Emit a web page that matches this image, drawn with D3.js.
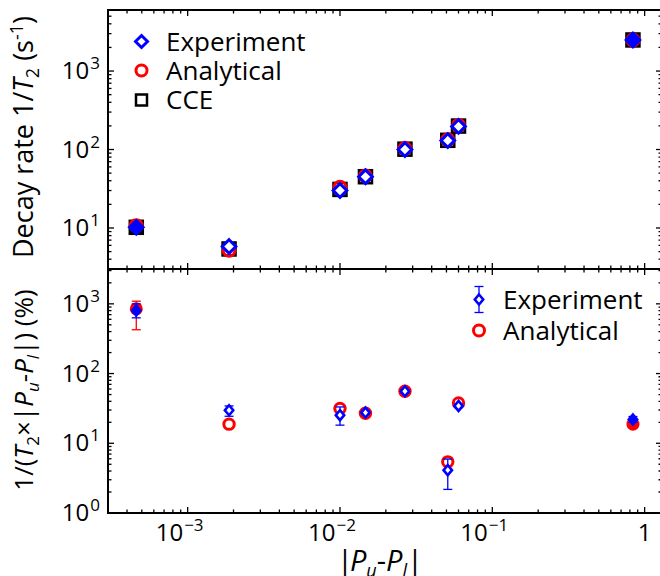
<!DOCTYPE html>
<html>
<head>
<meta charset="utf-8">
<script src="https://cdn.jsdelivr.net/npm/d3@7"></script>
<style>
	body { margin: 0; background: #fff; }
	svg { display: block; font-family: "Open Sans", sans-serif; }
</style>
</head>
<body>
<div id="graphic"></div>
<script>
// |Pu - Pl| for each measured transition
const pDiff = [4.6e-4, 1.87e-3, 0.0100, 0.0147, 0.0267, 0.051, 0.060, 0.838];

// top panel: decay rate 1/T2 (s^-1)
const rateExp = [10.2, 5.8, 30, 45, 100, 130, 197, 2490];
const rateAna = [10.7, 5.2, 33, 46, 103, 133, 203, 2490];
const rateCce = [10.2, 5.4, 31, 45, 101, 131, 199, 2490];

// bottom panel: 1/(T2 x |Pu-Pl|) (%)
const pctExp = [803, 29.8, 25.3, 27.6, 55.7, 4.12, 34.3, 21.9];
const pctExpLo = [630, 24.4, 18.2, 25.8, 52.5, 2.18, 32.6, 20.0];
const pctExpHi = [1000, 34.3, 33.2, 29.6, 59.0, 5.93, 36.2, 24.2];
const pctAna = [849, 18.8, 31.5, 27.0, 55.7, 5.42, 37.9, 18.8];
const pctAnaLo = [425, null, null, null, null, null, null, null];
const pctAnaHi = [1091, null, null, null, null, null, null, null];

// tick labels: [base, exponent]
const xTicks = [1e-3, 1e-2, 1e-1, 1];
const xTickLabels = [["10", "-3"], ["10", "-2"], ["10", "-1"], ["1", ""]];
const yTopTicks = [10, 100, 1000];
const yTopLabels = [["10", "1"], ["10", "2"], ["10", "3"]];
const yBotTicks = [1, 10, 100, 1000];
const yBotLabels = [["10", "0"], ["10", "1"], ["10", "2"], ["10", "3"]];

const width = 660, height = 576;
const filledIdx = [0, 7]; // end points drawn with solid markers
const blue = "#0000ff", red = "#ff0000";

const svg = d3.select("#graphic").append("svg")
	.attr("width", width).attr("height", height);

const x = d3.scaleLog().domain([3e-4, 1.3]).range([108, 662]);
const yTop = d3.scaleLog().domain([3, 6000]).range([269, 10]);
const yBot = d3.scaleLog().domain([1, 3160]).range([513, 269]);

function drawFrame(y) {
	let g = svg.append("g");
	let [yb, yt] = y.range();
	let [xl, xr] = x.range();
	let isMajor = (v) => Math.abs(Math.log10(v) - Math.round(Math.log10(v))) < 1e-6;

	x.ticks().forEach(function (t) {
		let len = isMajor(t) ? 6 : 3.5;
		let px = x(t);
		g.append("line").attr("x1", px).attr("x2", px).attr("y1", yb).attr("y2", yb - len);
		g.append("line").attr("x1", px).attr("x2", px).attr("y1", yt).attr("y2", yt + len);
	});
	y.ticks().forEach(function (t) {
		let len = isMajor(t) ? 6 : 3.5;
		let py = y(t);
		g.append("line").attr("x1", xl).attr("x2", xl + len).attr("y1", py).attr("y2", py);
		g.append("line").attr("x1", xr).attr("x2", xr - len).attr("y1", py).attr("y2", py);
	});
	g.selectAll("line").attr("stroke", "#000").attr("stroke-width", 1.3);

	g.append("rect")
		.attr("x", xl).attr("y", yt)
		.attr("width", xr - xl).attr("height", yb - yt)
		.attr("fill", "none").attr("stroke", "#000").attr("stroke-width", 2);
	return g;
}

function powLabel(g, px, py, lab, anchor) {
	let t = g.append("text")
		.attr("x", px).attr("y", py)
		.attr("text-anchor", anchor)
		.attr("font-size", 24);
	t.append("tspan").text(lab[0]);
	if (lab[1] !== "") {
		t.append("tspan").attr("dx", 1).attr("dy", -10).attr("font-size", 17).text(lab[1].replace("-", "\u2212"));
	}
}

function diamondPath(w, h) {
	return "M0," + (-h) + "L" + w + ",0L0," + h + "L" + (-w) + ",0Z";
}

// ---------- top panel ----------
drawFrame(yTop);
yTopTicks.forEach((t, i) => powLabel(svg, 100, yTop(t) + 8, yTopLabels[i], "end"));

let topMarks = svg.append("g");
pDiff.forEach(function (p, i) {
	let solid = filledIdx.includes(i);
	topMarks.append("rect")
		.attr("x", x(p) - 6.5).attr("y", yTop(rateCce[i]) - 6.5)
		.attr("width", 13).attr("height", 13)
		.attr("fill", solid ? "#000" : "none")
		.attr("stroke", "#000").attr("stroke-width", 2.5);
});
pDiff.forEach(function (p, i) {
	let solid = filledIdx.includes(i);
	topMarks.append("circle")
		.attr("cx", x(p)).attr("cy", yTop(rateAna[i])).attr("r", 6)
		.attr("fill", solid ? red : "none")
		.attr("stroke", red).attr("stroke-width", 3);
});
pDiff.forEach(function (p, i) {
	let solid = filledIdx.includes(i);
	topMarks.append("path")
		.attr("transform", "translate(" + x(p) + "," + yTop(rateExp[i]) + ")")
		.attr("d", diamondPath(6.8, 6.8))
		.attr("fill", solid ? blue : "#fff")
		.attr("stroke", blue).attr("stroke-width", 3);
});

// top legend
let leg1 = svg.append("g").attr("font-size", 26);
leg1.append("path").attr("transform", "translate(141.5,41.5)")
	.attr("d", diamondPath(6, 6)).attr("fill", "none").attr("stroke", blue).attr("stroke-width", 3);
leg1.append("circle").attr("cx", 141.5).attr("cy", 70.5).attr("r", 5.5)
	.attr("fill", "none").attr("stroke", red).attr("stroke-width", 3);
leg1.append("rect").attr("x", 136).attr("y", 94.5).attr("width", 11).attr("height", 11)
	.attr("fill", "none").attr("stroke", "#000").attr("stroke-width", 2.5);
[["Experiment", 41.5], ["Analytical", 70.5], ["CCE", 100]].forEach(function (d) {
	leg1.append("text").attr("x", 166).attr("y", d[1] + 9).text(d[0]);
});

// ---------- bottom panel ----------
drawFrame(yBot);
yBotTicks.forEach((t, i) => powLabel(svg, 100, yBot(t) + 8, yBotLabels[i], "end"));
xTicks.forEach((t, i) => powLabel(svg, x(t) - (xTickLabels[i][1] ? 8 : 0), 541, xTickLabels[i], "middle"));

function errBar(g, px, lo, hi, colour) {
	g.append("line").attr("x1", px).attr("x2", px).attr("y1", lo).attr("y2", hi);
	g.append("line").attr("x1", px - 4.5).attr("x2", px + 4.5).attr("y1", lo).attr("y2", lo);
	g.append("line").attr("x1", px - 4.5).attr("x2", px + 4.5).attr("y1", hi).attr("y2", hi);
	g.selectAll("line").attr("stroke", colour).attr("stroke-width", 1.3);
}

let botMarks = svg.append("g");
pDiff.forEach(function (p, i) {
	let solid = filledIdx.includes(i);
	if (pctAnaLo[i] !== null) {
		errBar(botMarks.append("g"), x(p), yBot(pctAnaLo[i]), yBot(pctAnaHi[i]), red);
	}
	botMarks.append("circle")
		.attr("cx", x(p)).attr("cy", yBot(pctAna[i])).attr("r", solid ? 6.5 : 5.2)
		.attr("fill", solid ? red : "none")
		.attr("stroke", red).attr("stroke-width", solid ? 0 : 3);
});
pDiff.forEach(function (p, i) {
	let solid = filledIdx.includes(i);
	errBar(botMarks.append("g"), x(p), yBot(pctExpLo[i]), yBot(pctExpHi[i]), blue);
	botMarks.append("path")
		.attr("transform", "translate(" + x(p) + "," + yBot(pctExp[i]) + ")")
		.attr("d", diamondPath(4.2, 5))
		.attr("fill", solid ? blue : "#fff")
		.attr("stroke", blue).attr("stroke-width", 2.6);
});

// bottom legend
let leg2 = svg.append("g").attr("font-size", 26);
errBar(leg2.append("g"), 479, 286.5, 312.5, blue);
leg2.append("path").attr("transform", "translate(479,299.5)")
	.attr("d", diamondPath(4.2, 5)).attr("fill", "#fff").attr("stroke", blue).attr("stroke-width", 2.6);
leg2.append("circle").attr("cx", 479).attr("cy", 330.5).attr("r", 5.5)
	.attr("fill", "none").attr("stroke", red).attr("stroke-width", 3);
[["Experiment", 299.5], ["Analytical", 330.5]].forEach(function (d) {
	leg2.append("text").attr("x", 503).attr("y", d[1] + 9).text(d[0]);
});

// ---------- axis titles ----------
let yt1 = svg.append("text")
	.attr("transform", "translate(33,137) rotate(-90)")
	.attr("text-anchor", "middle").attr("font-size", 27);
yt1.append("tspan").text("Decay rate 1/");
yt1.append("tspan").attr("font-style", "italic").text("T");
yt1.append("tspan").attr("font-size", 18).attr("dy", 6).text("2");
yt1.append("tspan").attr("dy", -6).text(" (s");
yt1.append("tspan").attr("font-size", 18).attr("dy", -10).text("-1");
yt1.append("tspan").attr("dy", 10).text(")");

let yt2 = svg.append("text")
	.attr("transform", "translate(33,390) rotate(-90)")
	.attr("text-anchor", "middle").attr("font-size", 26);
yt2.append("tspan").text("1/(");
yt2.append("tspan").attr("font-style", "italic").text("T");
yt2.append("tspan").attr("font-size", 17).attr("dy", 6).text("2");
yt2.append("tspan").attr("dy", -6).text("\u00d7|");
yt2.append("tspan").attr("font-style", "italic").text("P");
yt2.append("tspan").attr("font-size", 17).attr("font-style", "italic").attr("dy", 6).text("u");
yt2.append("tspan").attr("dy", -6).text("-");
yt2.append("tspan").attr("font-style", "italic").text("P");
yt2.append("tspan").attr("font-size", 17).attr("font-style", "italic").attr("dy", 6).text("l");
yt2.append("tspan").attr("dy", -6).text("|) (%)");

let xt = svg.append("text")
	.attr("x", 380).attr("y", 571)
	.attr("text-anchor", "middle").attr("font-size", 29);
xt.append("tspan").text("|");
xt.append("tspan").attr("dx", -3).attr("font-style", "italic").text("P");
xt.append("tspan").attr("font-size", 18).attr("font-style", "italic").attr("dy", 6).text("u");
xt.append("tspan").attr("dy", -6).text("-");
xt.append("tspan").attr("font-style", "italic").text("P");
xt.append("tspan").attr("font-size", 18).attr("font-style", "italic").attr("dy", 6).text("l");
xt.append("tspan").attr("dy", -6).text("|");
</script>
</body>
</html>
